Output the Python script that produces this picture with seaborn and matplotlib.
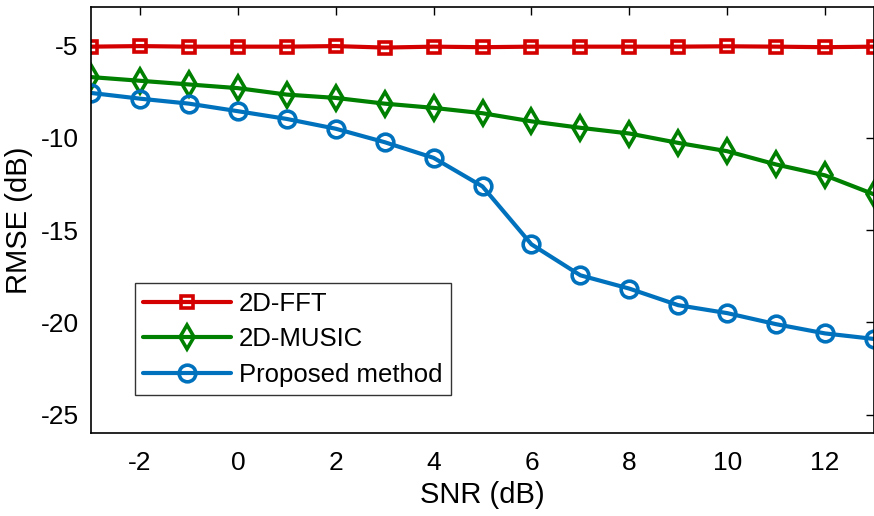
import matplotlib
matplotlib.use("Agg")
import matplotlib.pyplot as plt
import seaborn as sns
import pandas as pd

snr = [-3, -2, -1, 0, 1, 2, 3, 4, 5, 6, 7, 8, 9, 10, 11, 12, 13]
rmse_fft = [-5.05, -5.02, -5.05, -5.05, -5.05, -5.02, -5.10, -5.05, -5.08,
            -5.05, -5.05, -5.05, -5.05, -5.03, -5.05, -5.08, -5.05]
rmse_music = [-6.70, -6.90, -7.10, -7.30, -7.65, -7.83, -8.14, -8.37, -8.66,
              -9.10, -9.45, -9.76, -10.27, -10.72, -11.44, -12.03, -13.06]
rmse_proposed = [-7.56, -7.87, -8.14, -8.55, -8.97, -9.50, -10.23, -11.08, -12.63,
                 -15.77, -17.45, -18.17, -19.07, -19.50, -20.10, -20.60, -20.90]

series = [
    ("2D-FFT", rmse_fft, "#D40000", "s", 8.5),
    ("2D-MUSIC", rmse_music, "#008000", "d", 12),
    ("Proposed method", rmse_proposed, "#0072BD", "o", 12),
]

sns.set_style("white")
plt.rcParams["font.family"] = ["Liberation Sans", "DejaVu Sans"]
plt.rcParams["axes.unicode_minus"] = False
plt.rcParams["text.color"] = "black"
plt.rcParams["axes.labelcolor"] = "black"

fig = plt.figure(figsize=(8.74, 5.16), dpi=100)
ax = fig.add_axes([91 / 874, 83 / 516, 783 / 874, 426 / 516])

for name, vals, color, marker, ms in series:
    df = pd.DataFrame({"SNR": snr, "RMSE": vals})
    sns.lineplot(data=df, x="SNR", y="RMSE", ax=ax, color=color, label=name,
                 linewidth=3, marker=marker, markersize=ms,
                 markerfacecolor="none", markeredgecolor=color,
                 markeredgewidth=2.6)

ax.set_xlim(-3, 13)
ax.set_ylim(-26, -2.9)
ax.set_xticks([-2, 0, 2, 4, 6, 8, 10, 12])
ax.set_yticks([-25, -20, -15, -10, -5])
ax.tick_params(direction="in", length=6, width=1, top=True, right=True,
               labelsize=19, colors="black")
ax.tick_params(axis="x", pad=13)
ax.tick_params(axis="y", pad=9)
for s in ax.spines.values():
    s.set_color("black")
    s.set_linewidth(1.2)

ax.set_xlabel("SNR (dB)", fontsize=21, labelpad=4)
ax.set_ylabel("RMSE (dB)", fontsize=21, labelpad=5)

leg = ax.legend(loc="upper left", bbox_to_anchor=(0.0562, 0.352),
                borderaxespad=0, fontsize=18.5, frameon=True, fancybox=False,
                handlelength=3.4, handletextpad=0.3, labelspacing=0.45,
                borderpad=0.33)
leg.get_frame().set_edgecolor("black")
leg.get_frame().set_linewidth(1.0)
for t in leg.get_texts():
    t.set_color("black")

fig.savefig("out.png", dpi=100)
